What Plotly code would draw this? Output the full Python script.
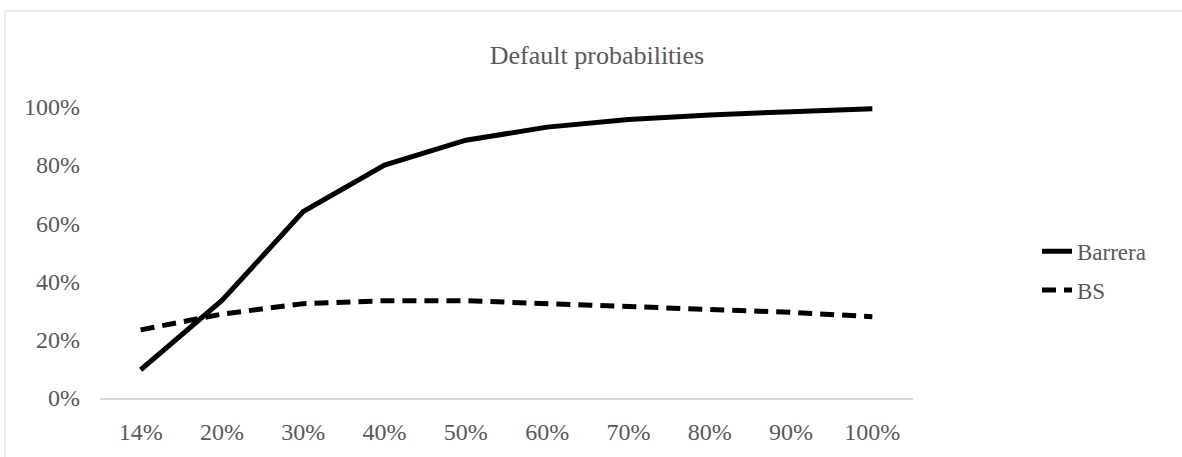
import plotly.graph_objects as go

categories = ["14%", "20%", "30%", "40%", "50%", "60%", "70%", "80%", "90%", "100%"]
barrera = [0.097, 0.335, 0.64, 0.80, 0.885, 0.93, 0.956, 0.972, 0.983, 0.993]
bs = [0.234, 0.288, 0.324, 0.334, 0.334, 0.325, 0.316, 0.305, 0.294, 0.279]
y_ticks = [0, 0.2, 0.4, 0.6, 0.8, 1.0]

W, H = 1182, 457
L, R = 100, 913
TOP, BOT = 97.6, 403.0
pw, ph = R - L, BOT - TOP

font = "Liberation Serif, Times New Roman, serif"
grey = "#595959"

fig = go.Figure()
fig.add_trace(go.Scatter(x=categories, y=barrera, mode="lines", name="Barrera",
                         line=dict(color="black", width=5), legendgroup="a"))
fig.add_trace(go.Scatter(x=categories, y=bs, mode="lines", name="BS",
                         line=dict(color="black", width=5, dash="14px,8px"), legendgroup="b"))

fig.update_layout(
    width=W, height=H,
    margin=dict(l=L, r=W - R, t=TOP, b=H - BOT, pad=0),
    paper_bgcolor="white", plot_bgcolor="white",
    font=dict(family=font, color=grey, size=24),
    title=dict(text="Default probabilities", x=597 / W, xref="container", xanchor="center",
               y=1 - 55 / H, yref="container", yanchor="middle",
               font=dict(size=26, color=grey, family=font)),
    xaxis=dict(type="category", range=[-0.5, 9.5], showgrid=False, showline=True,
               linecolor="#d9d9d9", linewidth=1.5, ticks="", tickfont=dict(size=24, color=grey),
               ticklabelstandoff=11),
    yaxis=dict(range=[0, 1.03], tickvals=y_ticks, tickformat=".0%", showgrid=False,
               showline=False, zeroline=False, ticks="", tickfont=dict(size=24, color=grey),
               ticklabelstandoff=19),
    legend=dict(x=(1037 - L) / pw, xanchor="left", y=(BOT - 253) / ph + 0.06 + 3 / ph, yanchor="top",
                font=dict(size=23, color=grey), tracegroupgap=6, bgcolor="rgba(0,0,0,0)"),
    shapes=[dict(type="rect", xref="paper", yref="paper",
                 x0=(5 - L) / pw, x1=(1195 - L) / pw,
                 y0=(BOT - 470) / ph, y1=(BOT - 9) / ph,
                 line=dict(color="#d9d9d9", width=1), fillcolor="rgba(0,0,0,0)", layer="below")],
)

fig.write_html("out.html", config={"displayModeBar": False},
               post_script="document.body.style.margin='0';")
